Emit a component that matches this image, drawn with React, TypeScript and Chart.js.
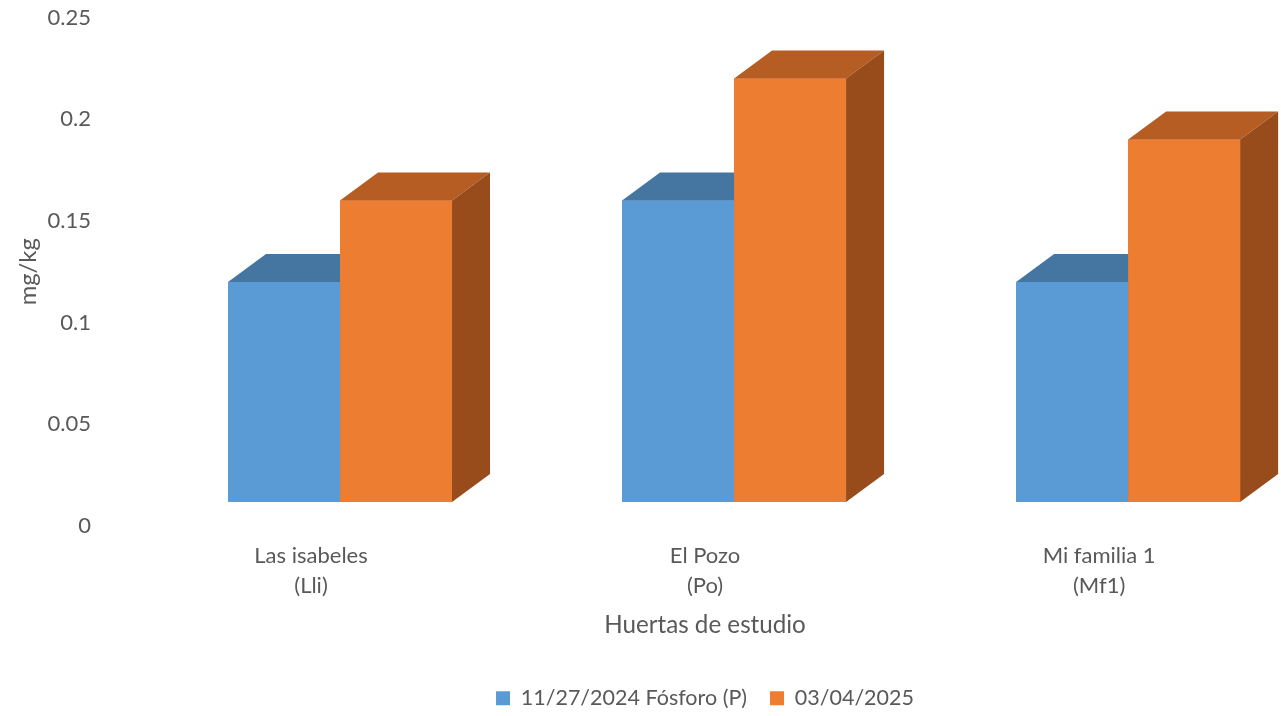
import React, { useEffect, useRef } from "react";
import { Chart, registerables } from "chart.js";

Chart.register(...registerables);

// ---- data ----
const CATEGORIES: string[][] = [
  ["Las isabeles", "(Lli)"],
  ["El Pozo", "(Po)"],
  ["Mi familia 1", "(Mf1)"],
];
const SERIES_LABELS = ["11/27/2024 Fósforo (P)", "03/04/2025"];
const SERIES_1 = [0.12, 0.16, 0.12];
const SERIES_2 = [0.16, 0.22, 0.19];
const Y_TICKS = [0, 0.05, 0.1, 0.15, 0.2, 0.25];
const Y_TITLE = "mg/kg";
const X_TITLE = "Huertas de estudio";

// ---- styles ----
const FRONT = ["#5B9BD5", "#ED7D31"];
const TOP = ["#4575A1", "#B55D22"];
const SIDE = ["#3C6890", "#984C1C"];
const TEXT = "#595959";
const FONT = "Lato";
const DEPTH_X = 38;
const DEPTH_Y = 28;
const FLOOR_LIFT = 24;

const threeD = {
  id: "threeD",
  beforeDatasetsDraw(chart: any) {
    const ctx = chart.ctx;
    const floor = chart.scales.y.getPixelForValue(0) - FLOOR_LIFT;
    ctx.save();
    ctx.beginPath();
    ctx.rect(0, 0, chart.width, floor);
    ctx.clip();
  },
  afterDatasetsDraw(chart: any) {
    const ctx = chart.ctx;
    ctx.restore();
    const floor = chart.scales.y.getPixelForValue(0) - FLOOR_LIFT;
    chart.data.datasets.forEach((_: any, i: number) => {
      const meta = chart.getDatasetMeta(i);
      meta.data.forEach((el: any) => {
        const { x, y, base, width } = el.getProps(["x", "y", "base", "width"], true);
        const l = x - width / 2;
        const r = x + width / 2;
        const b = Math.min(base, floor);
        // front face (repainted so that series order is kept)
        ctx.save();
        ctx.beginPath();
        ctx.rect(0, 0, chart.width, floor);
        ctx.clip();
        el.draw(ctx);
        ctx.restore();
        // top face
        ctx.beginPath();
        ctx.moveTo(l, y);
        ctx.lineTo(l + DEPTH_X, y - DEPTH_Y);
        ctx.lineTo(r + DEPTH_X, y - DEPTH_Y);
        ctx.lineTo(r, y);
        ctx.closePath();
        ctx.fillStyle = TOP[i];
        ctx.fill();
        // side face
        ctx.beginPath();
        ctx.moveTo(r, y);
        ctx.lineTo(r + DEPTH_X, y - DEPTH_Y);
        ctx.lineTo(r + DEPTH_X, b - DEPTH_Y);
        ctx.lineTo(r, b);
        ctx.closePath();
        ctx.fillStyle = SIDE[i];
        ctx.fill();
      });
    });
  },
};

export default function App() {
  const ref = useRef<HTMLCanvasElement | null>(null);

  useEffect(() => {
    document.body.style.margin = "0";
    const canvas = ref.current;
    if (!canvas) return;
    const chart = new Chart(canvas, {
      type: "bar",
      data: {
        datasets: [SERIES_1, SERIES_2].map((vals, i) => ({
          label: SERIES_LABELS[i],
          data: vals.map((v, k) => ({ x: k, y: v })),
          backgroundColor: FRONT[i],
          borderWidth: 0,
          barPercentage: 1,
          categoryPercentage: 0.5685,
        })),
      },
      options: {
        animation: false,
        responsive: false,
        devicePixelRatio: 1,
        layout: { padding: { top: 17.5, left: 0, right: 0, bottom: -3 } },
        plugins: {
          legend: {
            position: "bottom",
            fullSize: false,
            labels: {
              boxWidth: 14,
              boxHeight: 14,
              font: { family: FONT, size: 21.5 },
              color: TEXT,
              padding: 23,
            },
          },
          tooltip: { enabled: false },
        },
        scales: {
          x: {
            type: "linear",
            bounds: "data",
            offset: false,
            min: -0.5355,
            max: 2.388,
            afterBuildTicks: (s: any) => {
              s.ticks = CATEGORIES.map((_, k) => ({ value: k }));
            },
            afterFit: (s: any) => {
              s.height = 138.5;
              s.paddingLeft = 0;
              s.paddingRight = 0;
            },
            grid: { display: false, drawTicks: false },
            border: { display: false },
            ticks: {
              callback: (v: any) => CATEGORIES[Math.round(Number(v))],
              font: { family: FONT, size: 22, lineHeight: 1.36 },
              color: TEXT,
              padding: 15,
              labelOffset: -29,
              maxRotation: 0,
              autoSkip: false,
            },
            title: {
              display: true,
              text: X_TITLE,
              font: { family: FONT, size: 24.2, lineHeight: 1.2 },
              color: TEXT,
              padding: { top: 0, bottom: 25 },
            },
          },
          y: {
            min: 0,
            max: 0.25,
            afterBuildTicks: (s: any) => {
              s.ticks = Y_TICKS.map((v) => ({ value: v }));
            },
            afterFit: (s: any) => {
              s.width = 129;
              s.paddingTop = 10;
              s.paddingBottom = 10;
            },
            grid: { display: false, drawTicks: false },
            border: { display: false },
            ticks: {
              callback: (v: any) => String(Number(Number(v).toFixed(2))),
              font: { family: FONT, size: 22 },
              color: TEXT,
              padding: 38,
            },
            title: {
              display: true,
              text: Y_TITLE,
              font: { family: FONT, size: 23.8, lineHeight: 1.2 },
              color: TEXT,
              padding: { top: 14, bottom: 0 },
            },
          },
        },
      },
      plugins: [threeD],
    } as any);
    return () => chart.destroy();
  }, []);

  return (
    <div style={{ width: 1281, height: 716, background: "#fff" }}>
      <canvas ref={ref} width={1281} height={716} style={{ display: "block" }} />
    </div>
  );
}
